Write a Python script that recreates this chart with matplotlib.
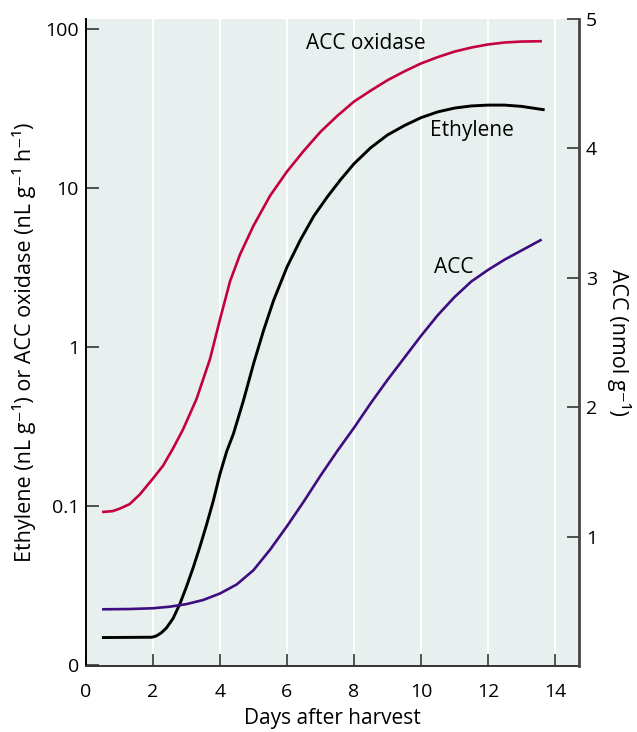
import matplotlib
matplotlib.use("Agg")
import matplotlib.pyplot as plt

plt.rcParams['font.family'] = ['Open Sans', 'DejaVu Sans']

# ACC oxidase (left axis, log scale)
oxidase_days = [0.52, 0.8, 1.0, 1.3, 1.6, 2.0, 2.3, 2.6, 2.9, 3.3, 3.7, 4.0, 4.3, 4.6, 5.0, 5.5,
                6.0, 6.5, 7.0, 7.5, 8.0, 8.5, 9.0, 9.5, 10.0, 10.5, 11.0, 11.5, 12.0, 12.5, 13.0, 13.57]
oxidase_vals = [0.0912, 0.0923, 0.0955, 0.102, 0.117, 0.148, 0.178, 0.229, 0.302, 0.468, 0.832,
                1.48, 2.57, 3.80, 5.75, 8.91, 12.6, 17.0, 22.4, 28.2, 34.7, 40.7, 47.3, 53.7, 60.3,
                66.1, 71.6, 75.9, 79.4, 81.7, 82.8, 83.2]

# Ethylene (left axis, log scale)
ethylene_days = [0.52, 1.97, 2.1, 2.25, 2.4, 2.6, 2.8, 3.0, 3.2, 3.4, 3.6, 3.8, 4.0, 4.2, 4.4, 4.7,
                 5.0, 5.3, 5.6, 6.0, 6.4, 6.8, 7.2, 7.6, 8.0, 8.5, 9.0, 9.5, 10.0, 10.5, 11.0, 11.5,
                 12.0, 12.5, 13.0, 13.65]
ethylene_vals = [0.01479, 0.01486, 0.01514, 0.01585, 0.01698, 0.0195, 0.0240, 0.0309, 0.0407, 0.0550,
                 0.0759, 0.107, 0.158, 0.219, 0.282, 0.457, 0.776, 1.26, 1.95, 3.16, 4.68, 6.61, 8.71,
                 11.2, 14.1, 17.8, 21.4, 24.5, 27.5, 29.9, 31.6, 32.6, 33.0, 33.0, 32.4, 30.9]

# ACC (right axis, nmol/g)
acc_days = [0.52, 1.3, 2.0, 2.5, 3.0, 3.5, 4.0, 4.5, 5.0, 5.5, 6.0, 6.5, 7.0, 7.5, 8.0, 8.5, 9.0,
            9.5, 10.0, 10.5, 11.0, 11.5, 12.0, 12.5, 13.0, 13.57]
acc_vals = [0.438, 0.44, 0.446, 0.458, 0.478, 0.51, 0.56, 0.63, 0.74, 0.90, 1.08, 1.27, 1.47, 1.66,
            1.84, 2.03, 2.21, 2.38, 2.55, 2.71, 2.85, 2.97, 3.06, 3.14, 3.21, 3.29]

left_ticks = [0.01, 0.1, 1, 10, 100]
left_labels = ['0', '0.1', '1', '10', '100']
right_ticks = [1, 2, 3, 4, 5]
day_ticks = [0, 2, 4, 6, 8, 10, 12, 14]

crimson = '#C4003F'
purple = '#3F0D80'
bg = '#E7F0EF'

fig = plt.figure(figsize=(6.37, 7.32), dpi=100)
ax = fig.add_axes([0.135, 0.0902, 0.774, 0.884])
ax.set_facecolor(bg)

# white vertical guide lines at each day tick
for d in day_ticks[1:]:
    ax.axvline(d, color='white', lw=1.4, zorder=0)

ax.plot(oxidase_days, oxidase_vals, color=crimson, lw=1.9, zorder=3)
ax.plot(ethylene_days, ethylene_vals, color='black', lw=2.1, zorder=3)

ax.set_yscale('log')
ax.set_ylim(0.0098, 115)
ax.set_xlim(0, 14.72)
ax.set_yticks(left_ticks)
ax.set_yticklabels(left_labels)
ax.minorticks_off()
ax.set_xticks(day_ticks)
ax.tick_params(axis='both', direction='in', length=9, width=1.3, color='#444444', labelsize=14)
ax.tick_params(axis='x', pad=12)
ax.tick_params(axis='y', pad=5)

ax.spines['top'].set_visible(False)
ax.spines['right'].set_visible(False)
ax.spines['left'].set_linewidth(1.4)
ax.spines['bottom'].set_linewidth(1.4)
ax.spines['bottom'].set_color('#333333')

ax.set_xlabel('Days after harvest', fontsize=15, labelpad=5)
ax.set_ylabel('Ethylene (nL g\u207b\u00b9) or ACC oxidase (nL g\u207b\u00b9 h\u207b\u00b9)',
              fontsize=15.5, labelpad=7)

ax2 = ax.twinx()
ax2.plot(acc_days, acc_vals, color=purple, lw=1.9, zorder=3)
ax2.set_ylim(0, 5)
ax2.set_yticks(right_ticks)
ax2.tick_params(axis='y', direction='in', length=9, width=1.3, color='#444444', labelsize=14, pad=5)
ax2.spines['top'].set_visible(False)
ax2.spines['left'].set_visible(False)
ax2.spines['bottom'].set_visible(False)
ax2.spines['right'].set_linewidth(2.0)
ax2.spines['right'].set_color('#444444')
ax2.set_ylabel('ACC (nmol g\u207b\u00b9)', rotation=-90, fontsize=15.5, labelpad=24)

ax.text(8.36, 81, 'ACC oxidase', fontsize=15, ha='center', va='center')
ax.text(11.52, 23, 'Ethylene', fontsize=15, ha='center', va='center')
ax.text(10.99, 3.12, 'ACC', fontsize=15, ha='center', va='center')

fig.savefig('out.png', dpi=100)
